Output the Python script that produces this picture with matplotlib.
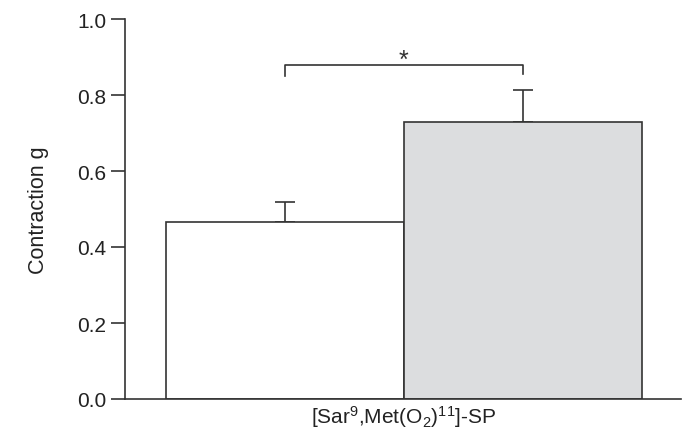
import matplotlib
matplotlib.use("Agg")
import matplotlib.pyplot as plt

plt.rcParams['font.family'] = ['Liberation Sans', 'DejaVu Sans']
plt.rcParams['mathtext.fontset'] = 'custom'
plt.rcParams['mathtext.rm'] = 'Liberation Sans'
plt.rcParams['mathtext.it'] = 'Liberation Sans'

groups = ['control', 'treated']
means = [0.466, 0.728]
errors = [0.052, 0.086]
colors = ['white', '#dcdddf']
yticks = [0.0, 0.2, 0.4, 0.6, 0.8, 1.0]
xlabel = r'[Sar$^{9}$,Met(O$_{2}$)$^{11}$]-SP'
ylabel = 'Contraction g'
sig_y = 0.88
sig_text = '*'

dark = '#333333'
fig = plt.figure(figsize=(6.85, 4.31), dpi=100)
ax = fig.add_axes([125/685, 31/431, 556/685, 380/431])

pos = list(range(len(means)))
ax.bar(pos, means, width=1.0, color=colors, edgecolor=dark, linewidth=1.2, zorder=2)
ax.errorbar(pos, means, yerr=[[0, 0], errors], fmt='none', ecolor=dark,
            elinewidth=1.2, capsize=7.2, capthick=1.2, zorder=1)

# significance bracket
ax.plot([pos[0], pos[0], pos[1], pos[1]], [sig_y - 0.03, sig_y, sig_y, sig_y - 0.025],
        color=dark, linewidth=1.2, clip_on=False)
ax.text((pos[0] + pos[1]) / 2, sig_y - 0.02, sig_text, ha='center', va='bottom',
        fontsize=18, color=dark)

ax.set_xlim(-0.672, 1.664)
ax.set_ylim(0, 1.0)
ax.set_yticks(yticks)
ax.set_yticklabels([f'{t:.1f}' for t in yticks])
ax.set_xticks([0.5])
ax.set_xticklabels([xlabel])
ax.tick_params(axis='x', length=0, pad=3, labelsize=15, colors='#222222')
ax.tick_params(axis='y', length=10, width=1.2, direction='out', pad=3.5,
               labelsize=15, color=dark, labelcolor='#222222')
ax.set_ylabel(ylabel, fontsize=15.5, color='#222222', labelpad=20)

for s in ['top', 'right']:
    ax.spines[s].set_visible(False)
for s in ['left', 'bottom']:
    ax.spines[s].set_color(dark)
    ax.spines[s].set_linewidth(1.2)

fig.savefig('out.png', dpi=100)
